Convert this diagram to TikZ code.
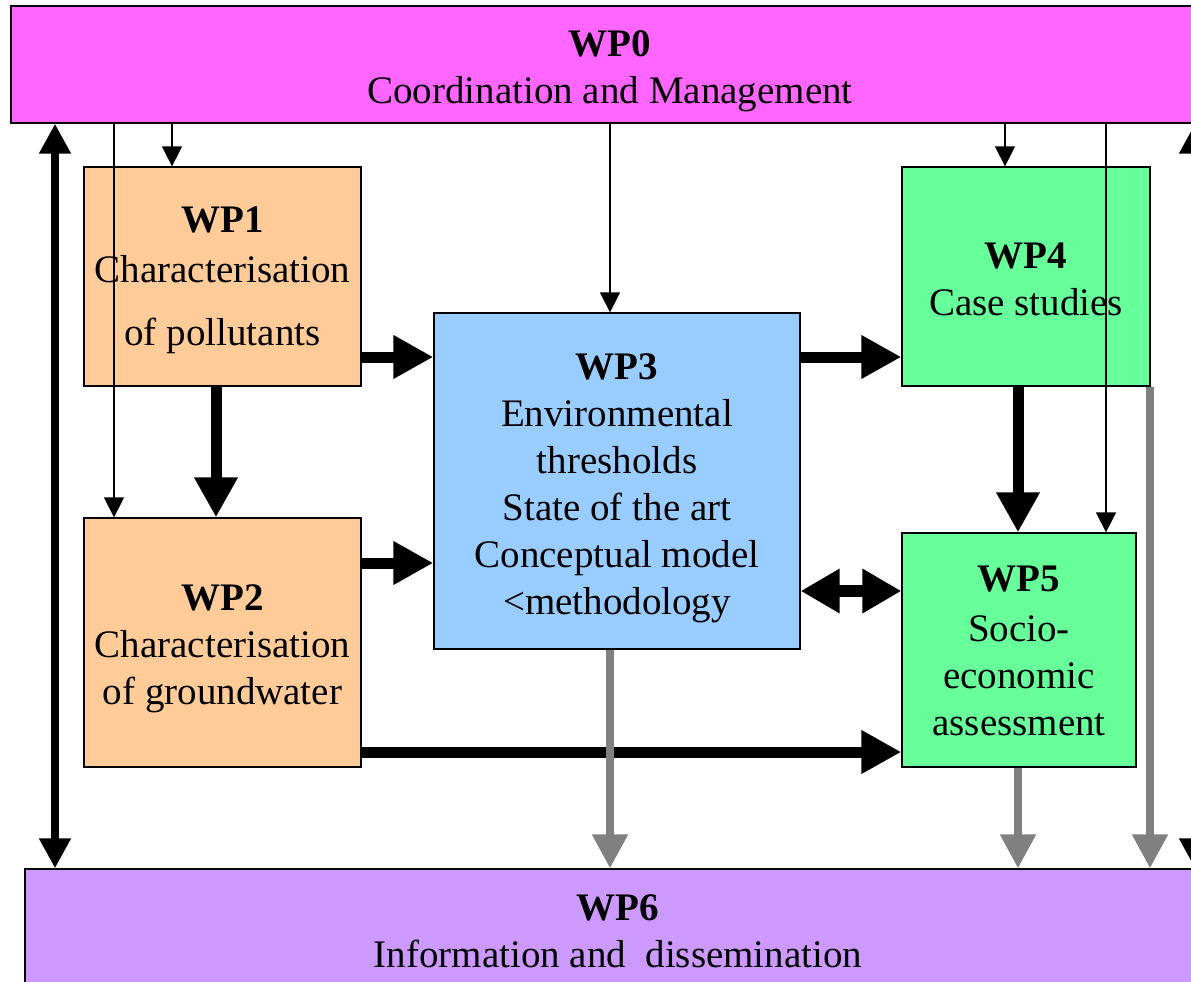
\documentclass[tikz,border=0pt]{standalone}
\usepackage{fontspec}
\setmainfont{Liberation Serif}
\usetikzlibrary{arrows.meta}
\definecolor{wpzero}{HTML}{FF66FF}
\definecolor{wppeach}{HTML}{FFCC99}
\definecolor{wpblue}{HTML}{99CCFF}
\definecolor{wpgreen}{HTML}{66FF99}
\definecolor{wplav}{HTML}{CC99FF}
\definecolor{arrowgray}{HTML}{808080}
\begin{document}
\begin{tikzpicture}[x=1pt,y=-1pt,
  wpbox/.style={draw=black, line width=1.3pt, inner sep=0pt},
  wptext/.style={align=center, inner sep=0pt, font=\fontsize{39}{47}\selectfont},
  thinarrow/.style={draw=black, line width=1.5pt, -{Triangle[width=20pt,length=20pt]}},
  thickarrow/.style={draw=black, line width=11pt, -{Triangle[width=41pt,length=40pt]}},
  boththick/.style={draw=black, line width=12pt, {Triangle[width=42pt,length=39pt]}-{Triangle[width=42pt,length=39pt]}},
  grayarrow/.style={draw=arrowgray, line width=8pt, -{Triangle[width=34pt,length=34pt]}},
  sidearrow/.style={draw=black, line width=8pt, {Triangle[width=30pt,length=30pt]}-{Triangle[width=30pt,length=30pt]}},
]
\useasboundingbox (0,0) rectangle (1191,982);
\clip (0,0) rectangle (1191,982);
\fill[white] (0,0) rectangle (1191,982);

% boxes
\node[wpbox, fill=wpzero, minimum width=1198pt, minimum height=117pt] (WP0) at (610,64.5) {};
\node[wpbox, fill=wppeach, minimum width=277pt, minimum height=219pt] (WP1) at (222.5,276.5) {};
\node[wpbox, fill=wppeach, minimum width=277pt, minimum height=249pt] (WP2) at (222.5,642.5) {};
\node[wpbox, fill=wpblue, minimum width=366pt, minimum height=336pt] (WP3) at (617,481) {};
\node[wpbox, fill=wpgreen, minimum width=248pt, minimum height=219pt] (WP4) at (1026,276.5) {};
\node[wpbox, fill=wpgreen, minimum width=234pt, minimum height=234pt] (WP5) at (1019,650) {};
\node[wpbox, fill=wplav, minimum width=1186pt, minimum height=124pt] (WP6) at (618,931) {};

% box texts
\node[wptext] (WP0t) at ([yshift=-7pt]WP0.center) {\textbf{WP0}\\Coordination and Management};
\node[wptext] (WP1t) at ([yshift=-4pt]WP1.center) {\textbf{WP1}\\[3pt]Characterisation\\[16pt]of pollutants};
\node[wptext] (WP2t) at ([yshift=-6pt]WP2.center) {\textbf{WP2}\\Characterisation\\of groundwater};
\node[wptext] (WP3t) at ([yshift=-7pt]WP3.center) {\textbf{WP3}\\Environmental\\thresholds\\State of the art\\Conceptual model\\<methodology};
\node[wptext] (WP4t) at ([yshift=-3pt]WP4.center) {\textbf{WP4}\\Case studies};
\node[wptext] (WP5t) at ([yshift=-1pt]WP5.center) {\textbf{WP5}\\[3pt]Socio-\\economic\\assessment};
\node[wptext] (WP6t) at (WP6.center) {\textbf{WP6}\\Information and\ \ dissemination};

% reference coordinates
\coordinate (xa) at (55,0);
\coordinate (xb) at (114,0);
\coordinate (xc) at (172,0);
\coordinate (xd) at (216,0);
\coordinate (xe) at (610,0);
\coordinate (xf) at (1005,0);
\coordinate (xg) at (1018,0);
\coordinate (xh) at (1106,0);
\coordinate (xi) at (1150,0);
\coordinate (xj) at (1195,0);
\coordinate (ya) at (0,357);
\coordinate (yb) at (0,563);
\coordinate (yc) at (0,591);
\coordinate (yd) at (0,752);

% thin arrows from WP0
\draw[thinarrow] (WP0.south -| xc) -- (WP1.north -| xc);
\draw[thinarrow] (WP0.south -| xb) -- (WP2.north -| xb);
\draw[thinarrow] (WP0.south -| xe) -- (WP3.north -| xe);
\draw[thinarrow] (WP0.south -| xf) -- (WP4.north -| xf);
\draw[thinarrow] (WP0.south -| xh) -- (WP5.north -| xh);

% thick black arrows
\draw[thickarrow] (WP1.east |- ya) -- (WP3.west |- ya);
\draw[thickarrow] (WP1.south -| xd) -- (WP2.north -| xd);
\draw[thickarrow] (WP2.east |- yb) -- (WP3.west |- yb);
\draw[thickarrow] (WP2.east |- yd) -- (WP5.west |- yd);
\draw[thickarrow] (WP3.east |- ya) -- (WP4.west |- ya);
\draw[thickarrow] (WP4.south -| xg) -- (WP5.north -| xg);
\draw[boththick] (WP3.east |- yc) -- (WP5.west |- yc);

% side arrows
\draw[sidearrow] (WP0.south -| xa) -- (WP6.north -| xa);
\draw[sidearrow] (WP0.south -| xj) -- (WP6.north -| xj);

% gray arrows
\draw[grayarrow] (WP3.south -| xe) -- (WP6.north -| xe);
\draw[grayarrow] (WP5.south -| xg) -- (WP6.north -| xg);
\draw[grayarrow] (WP4.south -| xi) -- (WP6.north -| xi);
\end{tikzpicture}
\end{document}
